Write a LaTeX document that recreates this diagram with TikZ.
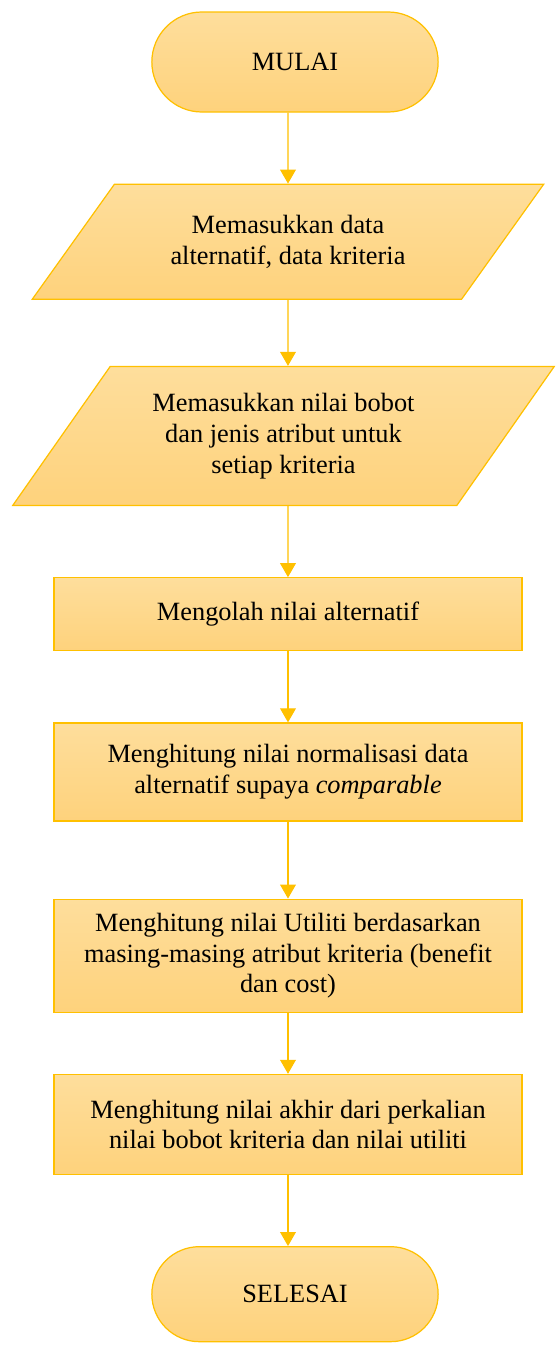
\documentclass[tikz,border=0pt]{standalone}
\usepackage{fontspec}
\setmainfont{Liberation Serif}
\usepackage{xcolor}
\usepackage{tikz}
\usetikzlibrary{positioning,shapes.geometric,shapes.misc,arrows.meta}

\definecolor{garis}{RGB}{255,192,0}
\definecolor{isiatas}{RGB}{254,222,156}
\definecolor{isibawah}{RGB}{254,210,124}

\begin{document}
\begin{tikzpicture}[
        % Jarak antar simbol flowchart
        node distance=1.42cm,
        base/.style={draw=garis, line width=0.7pt, top color=isiatas, bottom color=isibawah, text centered, align=center, font=\fontsize{15}{17.5}\selectfont},
        terminal/.style={base, rounded rectangle, minimum width=5.96cm, minimum height=2cm},
        inputbox/.style={base, trapezium, trapezium stretches=true, trapezium left angle=48, trapezium right angle=132},
        process/.style={base, rectangle, minimum width=9.36cm},
        flow/.style={-{Triangle[width=9pt,length=8pt]}, draw=garis, line width=0.7pt}
    ]
        \useasboundingbox (-5.76,1.24) rectangle (5.34,-25.66);
        \node [terminal] (mulai) at (0.14,0) {MULAI};
        \node [inputbox, below=of mulai, xshift=-0.14cm, minimum width=10.26cm, minimum height=2.3cm] (input1) {Memasukkan data\\alternatif, data kriteria};
        \node [inputbox, below=1.32cm of input1, xshift=-0.09cm, minimum width=10.84cm, minimum height=2.78cm, trapezium left angle=51.6, trapezium right angle=128.4] (input2) {Memasukkan nilai bobot\\dan jenis atribut untuk\\setiap kriteria};
        \node [process, below=of input2, xshift=0.09cm, minimum height=1.46cm] (olah) {Mengolah nilai alternatif};
        \node [process, below=of olah, minimum height=1.96cm] (normal) {Menghitung nilai normalisasi data\\alternatif supaya \textit{comparable}};
        \node [process, below=1.54cm of normal, minimum height=2.26cm] (utiliti) {Menghitung nilai Utiliti berdasarkan\\masing-masing atribut kriteria (benefit\\dan cost)};
        \node [process, below=1.22cm of utiliti, minimum height=2cm] (akhir) {Menghitung nilai akhir dari perkalian\\nilai bobot kriteria dan nilai utiliti};
        \node [terminal, below=of akhir, xshift=0.14cm, minimum height=1.9cm] (selesai) {SELESAI};

        \draw[flow] (mulai.south -| input1) -- (input1);
        \draw[flow] (input1) -- (input1 |- input2.north);
        \draw[flow] (input1 |- input2.south) -- (olah);
        \draw[flow] (olah) -- (normal);
        \draw[flow] (normal) -- (utiliti);
        \draw[flow] (utiliti) -- (akhir);
        \draw[flow] (akhir) -- (akhir |- selesai.north);
    \end{tikzpicture}
\end{document}
